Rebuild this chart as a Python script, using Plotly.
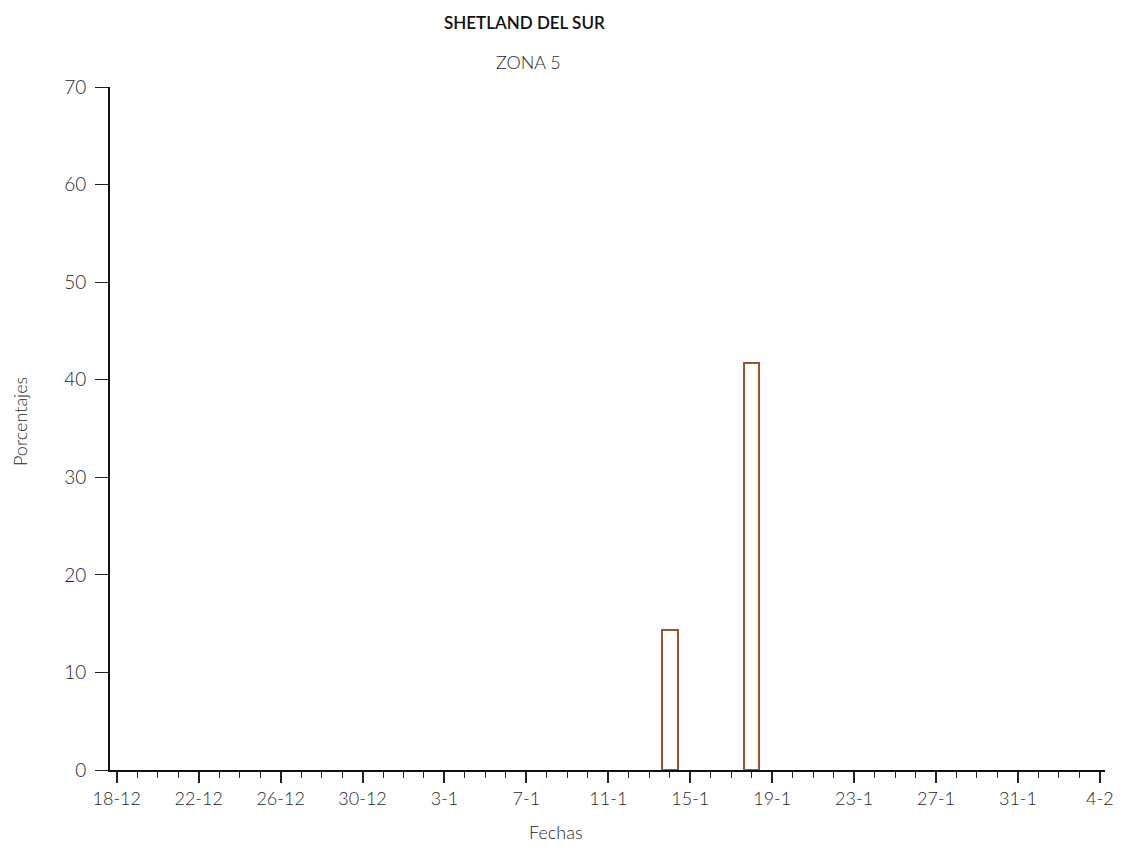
import pandas as pd
import plotly.graph_objects as go

# ---- data ----
tick_labels = ["18-12", "22-12", "26-12", "30-12", "3-1", "7-1", "11-1",
               "15-1", "19-1", "23-1", "27-1", "31-1", "4-2"]
bar_dates = ["14-1", "18-1"]
bar_values = [14.3, 41.7]


def to_date(lbl):
    d, m = [int(p) for p in lbl.split("-")]
    year = 1990 if m == 12 else 1991
    return pd.Timestamp(year=year, month=m, day=d)


tick_dates = [to_date(t) for t in tick_labels]
bar_x = [to_date(t) for t in bar_dates]
DAY = pd.Timedelta(days=1)
start, end = tick_dates[0], tick_dates[-1]

# page has 8px body margin: work in figure coords = screen - 8
OFF = 8
W, H = 1120, 841
L, T = 110 - OFF, 87 - OFF
R = W - (1105 - OFF)
B = H - (770 - OFF)

fig = go.Figure()
fig.add_trace(go.Bar(
    x=bar_x, y=bar_values,
    width=0.76 * 86400000,
    marker=dict(color="white", line=dict(color="#a0522d", width=2)),
    showlegend=False,
))

font = "Lato, 'Open Sans', sans-serif"
TXT = "#1f1f1f"
fig.update_layout(
    width=W, height=H,
    margin=dict(l=L, r=R, t=T, b=B),
    plot_bgcolor="white", paper_bgcolor="white",
    bargap=0,
    font=dict(family=font, size=18, color=TXT),
    xaxis=dict(
        type="date",
        range=[start - 0.33 * DAY, end + 0.25 * DAY],
        tickvals=tick_dates, ticktext=tick_labels,
        ticks="outside", ticklen=11, tickwidth=1.5, tickcolor="#222",
        minor=dict(ticks="outside", ticklen=6, dtick=86400000,
                   tick0=start, tickcolor="#222", tickwidth=1.2),
        showline=True, linecolor="#111", linewidth=2,
        showgrid=False, zeroline=False,
        tickfont=dict(size=18, color=TXT, weight=300),
    ),
    yaxis=dict(
        range=[0, 70], dtick=10,
        ticks="outside", ticklen=13, tickwidth=1.2, tickcolor="#222",
        ticklabelstandoff=5,
        showline=True, linecolor="#111", linewidth=2,
        showgrid=False, zeroline=False,
        tickfont=dict(size=19, color=TXT, weight=300),
    ),
)

# annotations given in screen pixel positions
ann_specs = [
    ("SHETLAND DEL SUR", 524, 22, 0, 17, "#111", 600),
    ("ZONA 5", 528, 62, 0, 18, TXT, 300),
    ("Porcentajes", 20, 422, -90, 18, TXT, 300),
    ("Fechas", 556, 832, 0, 18, TXT, 300),
]
pw, ph = W - L - R, H - T - B
for text, sx, sy, ang, size, col, wt in ann_specs:
    fx, fy = sx - OFF, sy - OFF
    fig.add_annotation(
        text=text, xref="paper", yref="paper",
        x=(fx - L) / pw, y=1 - (fy - T) / ph,
        xanchor="center", yanchor="middle", textangle=ang,
        showarrow=False, font=dict(size=size, color=col, weight=wt),
    )

fig.write_html("out.html")
